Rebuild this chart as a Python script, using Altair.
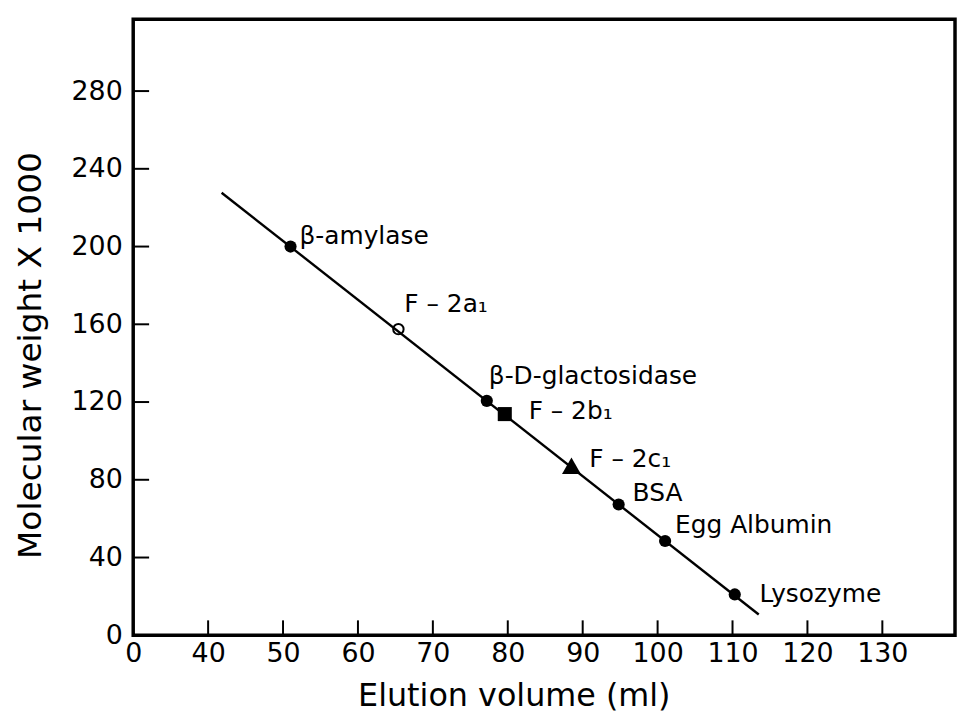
import altair as alt
import pandas as pd

# ---- data ----
protein_names = ["β-amylase", "β-D-glactosidase", "BSA", "Egg Albumin", "Lysozyme"]
protein_elution = [51.0, 77.2, 94.8, 101.0, 110.3]
protein_mw = [200.0, 120.6, 67.3, 48.5, 21.0]

fraction_names = ["F – 2a₁", "F – 2b₁", "F – 2c₁"]
fraction_elution = [65.4, 79.6, 88.5]
fraction_mw = [157.5, 113.8, 87.2]

fit_elution = [41.8, 113.5]
fit_mw = [227.7, 10.7]

x_tick_values = [40, 50, 60, 70, 80, 90, 100, 110, 120, 130]
x_label_values = [30] + x_tick_values      # 30 is shown as "0" (broken axis)
y_tick_values = [40, 80, 120, 160, 200, 240, 280]
y_label_values = [0] + y_tick_values

proteins = pd.DataFrame({"name": protein_names, "elution": protein_elution, "mw": protein_mw})
fractions = pd.DataFrame({"name": fraction_names, "elution": fraction_elution, "mw": fraction_mw})
fit = pd.DataFrame({"elution": fit_elution, "mw": fit_mw})
xt = pd.DataFrame({"v": x_tick_values})
yt = pd.DataFrame({"v": y_tick_values})

FONT = "DejaVu Sans"
W, H = 827, 620

xs = alt.Scale(domain=[30, 139.7], nice=False, zero=False)
ys = alt.Scale(domain=[0, 317], nice=False, zero=False)

x_axis = alt.Axis(
    title="Elution volume (ml)", values=x_label_values,
    labelExpr="datum.value == 30 ? '0' : datum.label",
    labelFontSize=27, labelFont=FONT, labelColor="black",
    labelBaseline="alphabetic", labelPadding=26, labelFlush=False,
    titleFontSize=32, titleFont=FONT, titleFontWeight="normal", titleColor="black",
    titleX=383, titleY=71, titleBaseline="alphabetic",
)
y_axis = alt.Axis(
    title="Molecular weight X 1000", values=y_label_values,
    labelFontSize=27, labelFont=FONT, labelColor="black", labelPadding=11,
    labelFlush=False,
    titleFontSize=33, titleFont=FONT, titleFontWeight="normal", titleColor="black",
    titleX=-103, titleY=338, titleAngle=-90, titleAlign="center", titleBaseline="middle",
)


def X(field):
    return alt.X(f"{field}:Q", scale=xs, axis=x_axis)


def Y(field):
    return alt.Y(f"{field}:Q", scale=ys, axis=y_axis)


fit_line = alt.Chart(fit).mark_line(color="black", strokeWidth=2.4).encode(x=X("elution"), y=Y("mw"))

protein_pts = alt.Chart(proteins).mark_circle(size=150, color="black", opacity=1).encode(
    x=X("elution"), y=Y("mw"))

frac_a = alt.Chart(fractions).transform_filter(alt.datum.name == fraction_names[0]).mark_point(
    shape="circle", filled=False, size=110, color="black", strokeWidth=2, opacity=1
).encode(x=X("elution"), y=Y("mw"))
frac_b = alt.Chart(fractions).transform_filter(alt.datum.name == fraction_names[1]).mark_square(
    size=200, color="black", opacity=1
).encode(x=X("elution"), y=Y("mw"))
frac_c = alt.Chart(fractions).transform_filter(alt.datum.name == fraction_names[2]).mark_point(
    shape="triangle-up", filled=True, size=360, color="black", opacity=1
).encode(x=X("elution"), y=Y("mw"))

# label offsets (style only)
label_offsets = {
    "β-amylase": (9, -3),
    "β-D-glactosidase": (2, -17),
    "BSA": (14, -3),
    "Egg Albumin": (10, -8),
    "Lysozyme": (25, 8),
    "F – 2a₁": (6, -17),
    "F – 2b₁": (24, 5),
    "F – 2c₁": (18, 1),
}

label_layers = []
for df, names in ((proteins, protein_names), (fractions, fraction_names)):
    for n in names:
        dx, dy = label_offsets[n]
        label_layers.append(
            alt.Chart(df).transform_filter(alt.datum.name == n).mark_text(
                align="left", baseline="alphabetic", dx=dx, dy=dy,
                fontSize=25, font=FONT, color="black"
            ).encode(x=X("elution"), y=Y("mw"), text="name:N")
        )

x_ticks = alt.Chart(xt).mark_rule(color="black", strokeWidth=2).encode(
    x=X("v"), y=alt.value(H), y2=alt.value(H - 15))
y_ticks = alt.Chart(yt).mark_rule(color="black", strokeWidth=2).encode(
    y=Y("v"), x=alt.value(0), x2=alt.value(16))

chart = alt.layer(
    x_ticks, y_ticks, fit_line, protein_pts, frac_a, frac_b, frac_c, *label_layers
).properties(
    width=W, height=H,
    autosize=alt.AutoSizeParams(type="none"),
    padding={"left": 126, "top": 9, "right": 2, "bottom": 77},
    background="white",
).configure_view(
    stroke="black", strokeWidth=3.5
).configure_axis(
    domain=False, ticks=False, tickSize=0, grid=False
)

chart.save("out.html", embed_options={"renderer": "svg", "actions": False})
